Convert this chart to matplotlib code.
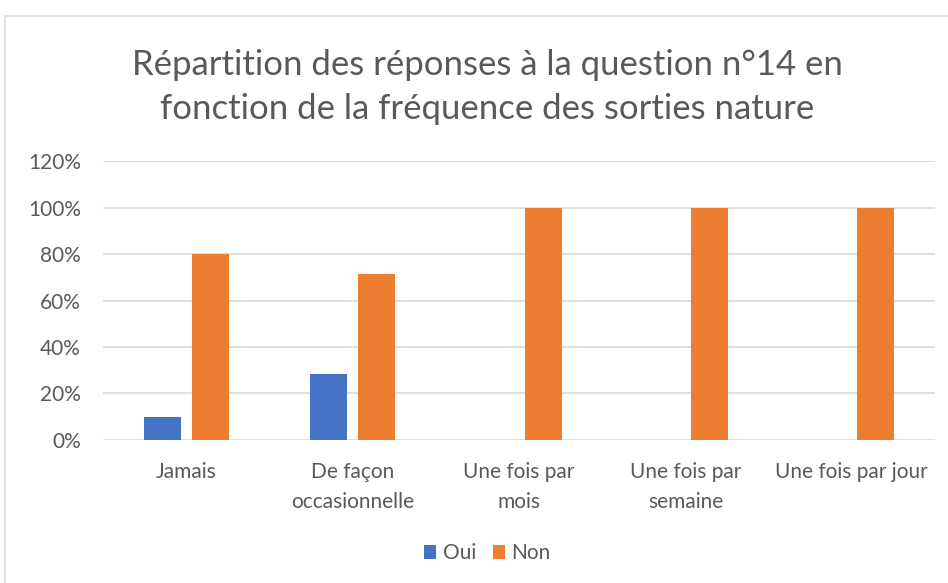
import matplotlib.pyplot as plt
import numpy as np
from matplotlib.patches import Rectangle
from matplotlib.ticker import PercentFormatter

categories = ['Jamais', 'De façon\noccasionnelle', 'Une fois par\nmois',
              'Une fois par\nsemaine', 'Une fois par jour']
oui = [0.10, 0.286, 0.0, 0.0, 0.0]
non = [0.80, 0.714, 1.0, 1.0, 1.0]

plt.rcParams['font.family'] = ['Lato', 'DejaVu Sans']
text_color = '#595959'

fig = plt.figure(figsize=(9.48, 5.83), dpi=100)
ax = fig.add_axes([0.1087, 0.2453, 0.8776, 0.4785])

# outer chart frame
fig.patches.append(Rectangle((5 / 948, -0.01), 1.0, 1 - 16 / 583 + 0.01,
                             transform=fig.transFigure, fill=False,
                             edgecolor='#d9d9d9', linewidth=1.2))

x = np.arange(len(categories))
w = 0.223
ax.bar(x - 0.145, oui, w, color='#4472c4', label='Oui', zorder=3)
ax.bar(x + 0.145, non, w, color='#ed7d31', label='Non', zorder=3)

ax.set_xlim(-0.5, len(categories) - 0.5)
ax.set_ylim(0, 1.2)
ax.set_yticks(np.arange(0, 1.21, 0.2))
ax.yaxis.set_major_formatter(PercentFormatter(1.0, decimals=0))
ax.grid(axis='y', color='#d9d9d9', linewidth=1.2, zorder=0)
for s in ax.spines.values():
    s.set_visible(False)
ax.tick_params(length=0, labelsize=15, labelcolor=text_color)
ax.tick_params(axis='y', pad=16)
ax.tick_params(axis='x', pad=16)
ax.set_xticks(x)
ax.set_xticklabels(categories, linespacing=1.6)

fig.text(0.514, 0.851, 'Répartition des réponses à la question n°14 en\n'
         'fonction de la fréquence des sorties nature',
         ha='center', va='center', fontsize=25, color=text_color,
         linespacing=1.45)

fig.legend(loc='center', bbox_to_anchor=(0.514, 0.051), ncol=2, frameon=False,
           fontsize=15, labelcolor=text_color, handlelength=0.6,
           handleheight=0.6, handletextpad=0.3, columnspacing=0.8)

fig.savefig('out.png', dpi=100)
